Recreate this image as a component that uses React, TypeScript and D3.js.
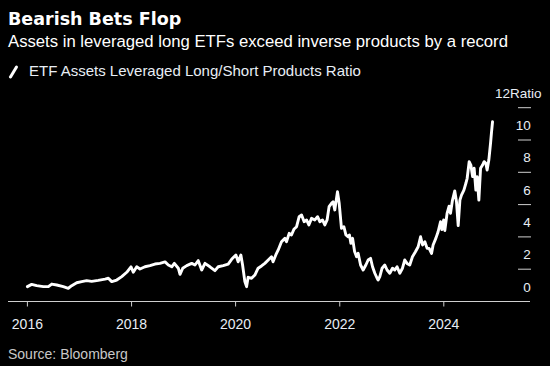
import React from 'react';
import * as d3 from 'd3';

const dates = [
  '2016-01-01', '2016-01-31', '2016-03-06', '2016-04-22', '2016-05-27', '2016-06-20', '2016-07-25', '2016-09-09',
  '2016-10-14', '2016-11-07', '2016-12-12', '2017-01-16', '2017-02-20', '2017-03-27', '2017-05-12', '2017-06-29',
  '2017-07-22', '2017-08-15', '2017-09-19', '2017-10-24', '2017-11-28', '2017-12-28', '2018-01-13', '2018-02-06',
  '2018-03-01', '2018-04-05', '2018-05-10', '2018-06-14', '2018-07-19', '2018-08-24', '2018-09-16', '2018-10-10',
  '2018-10-28', '2018-11-25', '2018-12-07', '2018-12-26', '2019-01-23', '2019-02-27', '2019-03-22', '2019-04-14',
  '2019-05-08', '2019-05-31', '2019-07-05', '2019-08-09', '2019-09-01', '2019-10-06', '2019-11-10', '2019-12-04',
  '2020-01-03', '2020-01-19', '2020-02-07', '2020-02-19', '2020-03-06', '2020-03-18', '2020-03-29', '2020-04-22',
  '2020-05-15', '2020-06-07', '2020-07-01', '2020-07-24', '2020-08-17', '2020-09-09', '2020-09-20', '2020-10-09',
  '2020-10-26', '2020-11-18', '2020-12-12', '2020-12-23', '2021-01-11', '2021-01-27', '2021-02-13', '2021-03-04',
  '2021-03-22', '2021-04-08', '2021-04-26', '2021-05-13', '2021-05-29', '2021-06-17', '2021-07-10', '2021-07-29',
  '2021-08-14', '2021-09-02', '2021-09-18', '2021-10-04', '2021-10-18', '2021-11-04', '2021-11-15', '2021-11-27',
  '2021-12-16', '2021-12-28', '2022-01-13', '2022-01-30', '2022-02-13', '2022-03-01', '2022-03-10', '2022-03-20',
  '2022-04-01', '2022-04-15', '2022-04-29', '2022-05-10', '2022-05-27', '2022-06-14', '2022-07-03', '2022-07-19',
  '2022-08-05', '2022-08-19', '2022-09-04', '2022-09-20', '2022-09-27', '2022-10-09', '2022-10-25', '2022-11-13',
  '2022-11-29', '2022-12-18', '2023-01-06', '2023-01-22', '2023-02-07', '2023-02-26', '2023-03-17', '2023-04-02',
  '2023-04-18', '2023-05-07', '2023-05-26', '2023-06-16', '2023-07-05', '2023-07-22', '2023-08-05', '2023-08-21',
  '2023-09-06', '2023-09-20', '2023-10-07', '2023-10-18', '2023-11-06', '2023-11-22', '2023-12-09', '2023-12-18',
  '2023-12-31', '2024-01-08', '2024-01-24', '2024-02-07', '2024-02-17', '2024-03-02', '2024-03-18', '2024-03-30',
  '2024-04-11', '2024-04-23', '2024-05-04', '2024-05-21', '2024-06-04', '2024-06-13', '2024-06-27', '2024-07-09',
  '2024-07-21', '2024-08-01', '2024-08-13', '2024-08-22', '2024-09-03', '2024-09-15', '2024-09-29', '2024-10-10',
  '2024-10-22', '2024-10-31', '2024-11-12', '2024-11-24', '2024-12-01', '2024-12-08',
];

const ratio = [
  0.92, 1.06, 0.98, 0.92, 0.92, 1.08, 1.02, 0.92,
  0.82, 0.98, 1.16, 1.23, 1.29, 1.25, 1.31, 1.39,
  1.44, 1.23, 1.33, 1.54, 1.81, 2.15, 1.81, 2.15,
  2.01, 2.15, 2.22, 2.32, 2.36, 2.45, 2.26, 2.15,
  2.36, 2.06, 1.68, 2.06, 2.22, 2.36, 2.26, 2.53,
  1.95, 2.36, 2.15, 1.91, 2.15, 2.22, 2.32, 2.61,
  2.88, 2.46, 2.88, 2.26, 1.23, 0.92, 1.5, 1.44,
  1.64, 2.06, 2.2, 2.36, 2.57, 2.77, 2.46, 2.88,
  3.19, 3.7, 3.91, 3.7, 4.22, 4.12, 4.47, 4.63,
  5.25, 5.36, 4.94, 5.05, 4.74, 5.15, 5.05, 5.25,
  4.94, 5.05, 4.74, 5.05, 5.87, 6.08, 6.18, 5.67,
  6.8, 6.08, 4.53, 4.63, 4.12, 4.01, 4.12, 3.6,
  3.91, 3.1, 2.77, 2.98, 2.26, 1.95, 2.26, 2.57,
  2.67, 2.15, 1.75, 1.44, 1.33, 1.54, 2.06, 2.26,
  1.95, 1.75, 2.06, 1.95, 2.15, 1.75, 2.06, 2.57,
  2.36, 2.26, 2.77, 3.08, 3.39, 4.01, 3.5, 3.7,
  3.29, 3.29, 2.98, 3.5, 3.91, 4.32, 4.94, 4.45,
  5.05, 4.4, 5.46, 5.9, 5.46, 6.28, 6.85, 6.18,
  4.7, 6.28, 6.59, 6.9, 7.32, 7.63, 8.66, 8.45,
  7.73, 8.25, 6.9, 7.73, 6.28, 8.25, 8.45, 8.66,
  8.56, 8.14, 8.76, 9.8, 10.51, 11.13,
];

const yearTicks = [2016, 2018, 2020, 2022, 2024];
const yTicks = [0, 2, 4, 6, 8, 10, 12];

const W = 550;
const H = 366;

export default function App() {
  const parse = d3.utcParse('%Y-%m-%d');
  const data = dates.map((d, i) => ({ date: parse(d) as Date, v: ratio[i] }));

  const x = d3
    .scaleUtc()
    .domain([new Date(Date.UTC(2016, 0, 1)), new Date(Date.UTC(2024, 0, 1))])
    .range([27.4, 443.8]);

  const y = d3.scaleLinear().domain([0, 12]).range([301.5, 107.7]);

  const line = d3
    .line<{ date: Date; v: number }>()
    .x((d) => x(d.date))
    .y((d) => y(d.v));

  const sans = '"Liberation Sans", Arial, sans-serif';

  return (
    <svg
      width={W}
      height={H}
      style={{ position: 'absolute', left: 0, top: 0, background: '#000' }}
    >
      <rect width={W} height={H} fill="#000" />

      <text x={8} y={25} fill="#fff" fontFamily='"DejaVu Sans", sans-serif' fontWeight="bold" fontSize={17.5}>
        Bearish Bets Flop
      </text>
      <text x={8} y={46.5} fill="#fff" fontFamily={sans} fontSize={16.7}>
        Assets in leveraged long ETFs exceed inverse products by a record
      </text>

      {/* legend */}
      <line x1={10.5} y1={77} x2={16.5} y2={67} stroke="#fff" strokeWidth={3} strokeLinecap="round" />
      <text x={29} y={76} fill="#e8eef5" fontFamily={sans} fontSize={15}>
        ETF Assets Leveraged Long/Short Products Ratio
      </text>

      {/* y axis dashes and labels */}
      {yTicks.map((t) => (
        <g key={t}>
          {t > 0 && <line x1={518} x2={531} y1={y(t)} y2={y(t)} stroke="#cfcfcf" strokeWidth={1} />}
          <text
            x={t === 12 ? 541.5 : 530.7}
            y={y(t) - 10}
            fill="#e8eef5"
            fontFamily={sans}
            fontSize={13.5}
            textAnchor="end"
          >
            {t === 12 ? '12Ratio' : t}
          </text>
        </g>
      ))}

      {/* x axis */}
      <line x1={8} x2={530} y1={y(0)} y2={y(0)} stroke="#cfcfcf" strokeWidth={1} />
      {yearTicks.map((yr) => {
        const px = x(new Date(Date.UTC(yr, 0, 1)));
        return (
          <g key={yr}>
            <line x1={px} x2={px} y1={y(0)} y2={y(0) + 5} stroke="#cfcfcf" strokeWidth={1} />
            <text x={px} y={328.5} fill="#e8eef5" fontFamily={sans} fontSize={14} textAnchor="middle">
              {yr}
            </text>
          </g>
        );
      })}

      <path
        d={line(data) ?? ''}
        fill="none"
        stroke="#fff"
        strokeWidth={2.9}
        strokeLinejoin="round"
        strokeLinecap="round"
      />

      <text x={8} y={359} fill="#c8c8c8" fontFamily={sans} fontSize={14}>
        Source: Bloomberg
      </text>
    </svg>
  );
}
